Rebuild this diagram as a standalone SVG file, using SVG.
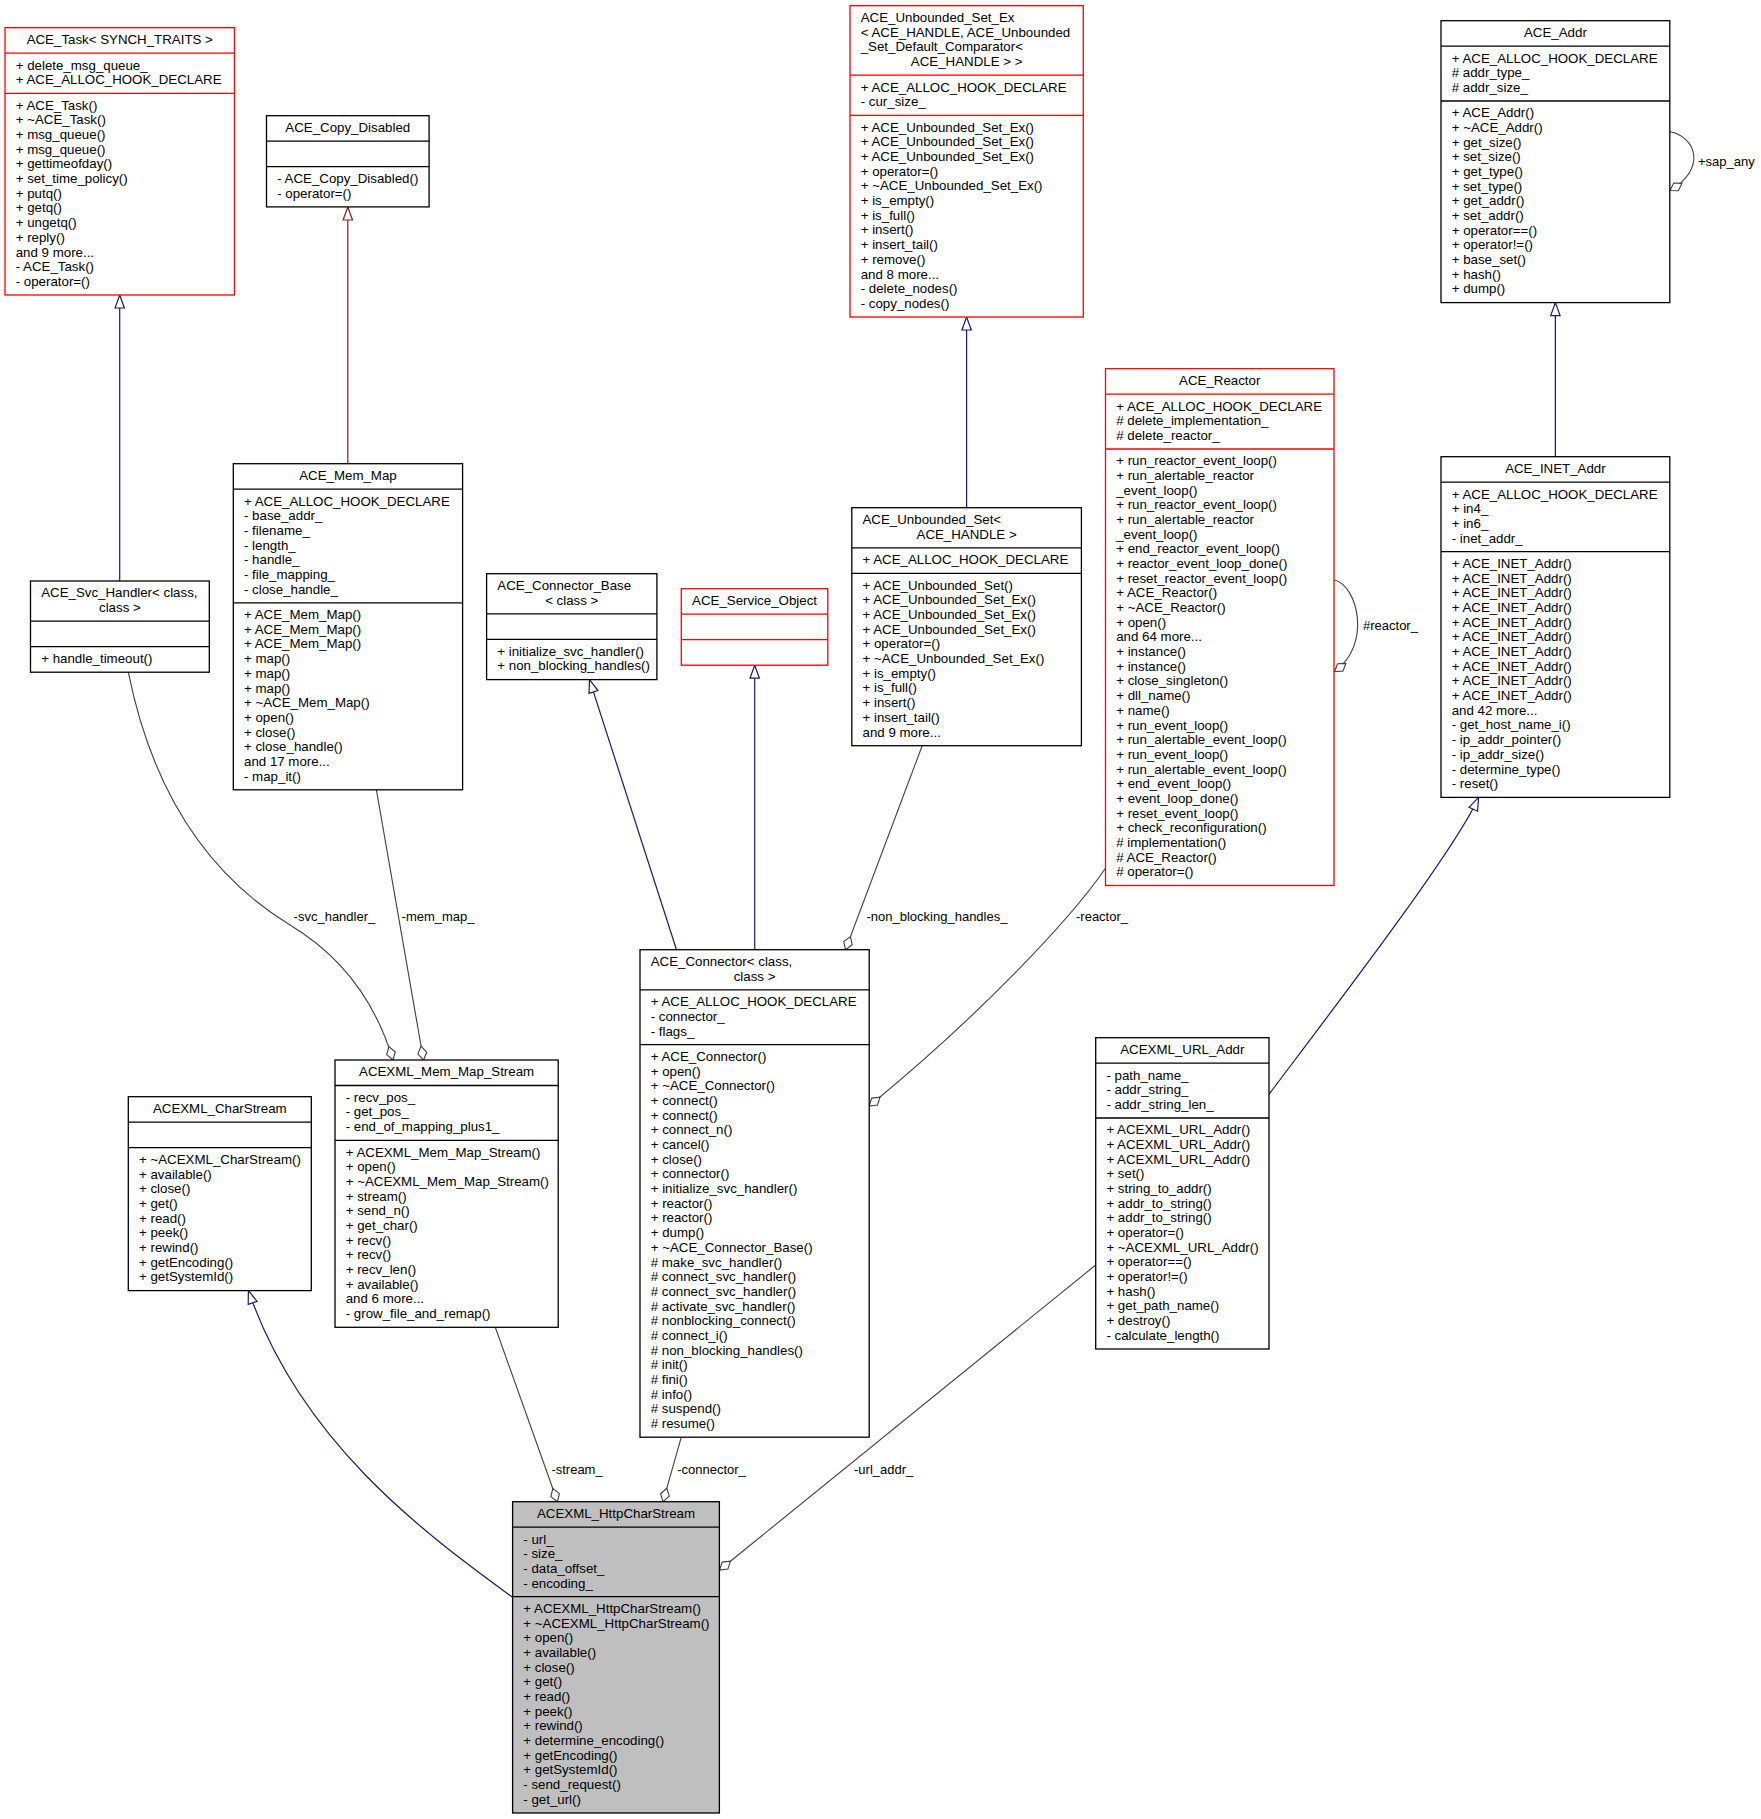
<svg xmlns="http://www.w3.org/2000/svg" width="1761" height="1819" viewBox="0 0 1761 1819">
<style>
.bg{fill:#ffffff}
.box{fill:#ffffff;stroke:#000000;stroke-width:1.3}
.rbox{fill:#ffffff;stroke:#ff0000;stroke-width:1.3}
.gbox{fill:#bfbfbf;stroke:#000000;stroke-width:1.3}
.div{stroke:#000000;stroke-width:1.3}
.rdiv{stroke:#ff0000;stroke-width:1.3}
text{font-family:"Liberation Sans",Arial,Helvetica,sans-serif;font-size:13.3px;fill:#000000}
.c{text-anchor:middle}
.lbl{font-size:13px}
.inh{fill:none;stroke:#191970;stroke-width:1.2;marker-end:url(#tri)}
.pinh{fill:none;stroke:#8b1a1a;stroke-width:1.2;marker-end:url(#ptri)}
.use{fill:none;stroke:#404040;stroke-width:1.1;marker-end:url(#dia)}
</style>
<defs>
<marker id="tri" markerUnits="userSpaceOnUse" markerWidth="16" markerHeight="12" refX="14" refY="5.7" orient="auto" viewBox="0 0 16 12">
<path d="M1,1 L14,5.7 L1,10.4 Z" fill="#ffffff" stroke="#191970" stroke-width="1.2"/>
</marker>
<marker id="ptri" markerUnits="userSpaceOnUse" markerWidth="16" markerHeight="12" refX="14" refY="5.7" orient="auto" viewBox="0 0 16 12">
<path d="M1,1 L14,5.7 L1,10.4 Z" fill="#ffffff" stroke="#8b1a1a" stroke-width="1.2"/>
</marker>
<marker id="dia" markerUnits="userSpaceOnUse" markerWidth="17" markerHeight="12" refX="15" refY="5.5" orient="auto" viewBox="0 0 17 12">
<path d="M1,5.5 L8,1 L15,5.5 L8,10 Z" fill="#ffffff" stroke="#404040" stroke-width="1.1"/>
</marker>
</defs>
<rect class="bg" x="0" y="0" width="1761" height="1819"/>

<g id="connectors">
<path class="inh" d="M119.7,581 L119.7,295"/>
<path class="pinh" d="M347.8,463.7 L347.8,207"/>
<path class="inh" d="M966.6,507.7 L966.6,317"/>
<path class="inh" d="M1555.4,456.7 L1555.4,302.6"/>
<path class="inh" d="M676.5,949.7 L589.5,679.6"/>
<path class="inh" d="M754.7,949.7 L754.7,665.2"/>
<path class="inh" d="M1269,1094.3 C1340,1000 1455,850 1478.6,797.4"/>
<path class="inh" d="M512.6,1597.3 C420,1530 300,1440 248.4,1290.6"/>
<path class="use" d="M128.3,672.2 C150,780 200,870 290,925 C340,955 375,1000 393,1060"/>
<path class="use" d="M376.4,789.8 L423.5,1060"/>
<path class="use" d="M495.3,1327.3 L557.5,1501.7"/>
<path class="use" d="M681.3,1437.2 L663,1501.7"/>
<path class="use" d="M922.2,745.7 L845.5,949.7"/>
<path class="use" d="M1105.5,868.3 C1070,920 980,1015 869.2,1106"/>
<path class="use" d="M1095.7,1265 L719.6,1570"/>
<path class="use" d="M1669.8,131.7 C1695,136 1708,168 1670,190.5"/>
<path class="use" d="M1334.5,580 C1358,586 1372,645 1334.5,671.5"/>
<text class="lbl" x="1698" y="165.5">+sap_any</text>
<text class="lbl" x="1363" y="630">#reactor_</text>
<text class="lbl" x="293.6" y="921">-svc_handler_</text>
<text class="lbl" x="401.6" y="921">-mem_map_</text>
<text class="lbl" x="866.5" y="921">-non_blocking_handles_</text>
<text class="lbl" x="1076" y="921">-reactor_</text>
<text class="lbl" x="551.4" y="1473.5">-stream_</text>
<text class="lbl" x="677.2" y="1473.5">-connector_</text>
<text class="lbl" x="854" y="1473.5">-url_addr_</text>
</g>

<g id="ACE_Task">
<rect class="rbox" x="5" y="27.7" width="229.5" height="267.3"/>
<line class="rdiv" x1="5" y1="53.2" x2="234.5" y2="53.2"/>
<line class="rdiv" x1="5" y1="93.4" x2="234.5" y2="93.4"/>
<text class="c" x="119.75" y="44">ACE_Task&lt; SYNCH_TRAITS &gt;</text>
<text x="15.7" y="69.5"><tspan x="15.7">+ delete_msg_queue_</tspan><tspan x="15.7" dy="14.68">+ ACE_ALLOC_HOOK_DECLARE</tspan></text>
<text x="15.7" y="109.7"><tspan x="15.7">+ ACE_Task()</tspan><tspan x="15.7" dy="14.68">+ ~ACE_Task()</tspan><tspan x="15.7" dy="14.68">+ msg_queue()</tspan><tspan x="15.7" dy="14.68">+ msg_queue()</tspan><tspan x="15.7" dy="14.68">+ gettimeofday()</tspan><tspan x="15.7" dy="14.68">+ set_time_policy()</tspan><tspan x="15.7" dy="14.68">+ putq()</tspan><tspan x="15.7" dy="14.68">+ getq()</tspan><tspan x="15.7" dy="14.68">+ ungetq()</tspan><tspan x="15.7" dy="14.68">+ reply()</tspan><tspan x="15.7" dy="14.68">and 9 more...</tspan><tspan x="15.7" dy="14.68">- ACE_Task()</tspan><tspan x="15.7" dy="14.68">- operator=()</tspan></text>
</g>

<g id="ACE_Copy_Disabled">
<rect class="box" x="266.5" y="115.7" width="162.6" height="91.2"/>
<line class="div" x1="266.5" y1="141.2" x2="429.1" y2="141.2"/>
<line class="div" x1="266.5" y1="166.7" x2="429.1" y2="166.7"/>
<text class="c" x="347.8" y="132">ACE_Copy_Disabled</text>
<text x="277.2" y="183"><tspan x="277.2">- ACE_Copy_Disabled()</tspan><tspan x="277.2" dy="14.68">- operator=()</tspan></text>
</g>

<g id="ACE_Unbounded_Set_Ex">
<rect class="rbox" x="850" y="5.7" width="233.3" height="311.3"/>
<line class="rdiv" x1="850" y1="75.2" x2="1083.3" y2="75.2"/>
<line class="rdiv" x1="850" y1="115.4" x2="1083.3" y2="115.4"/>
<text x="860.7" y="22"><tspan x="860.7">ACE_Unbounded_Set_Ex</tspan><tspan x="860.7" dy="14.68">&lt; ACE_HANDLE, ACE_Unbounded</tspan><tspan x="860.7" dy="14.68">_Set_Default_Comparator&lt;</tspan></text>
<text class="c" x="966.65" y="66">ACE_HANDLE &gt; &gt;</text>
<text x="860.7" y="91.5"><tspan x="860.7">+ ACE_ALLOC_HOOK_DECLARE</tspan><tspan x="860.7" dy="14.68">- cur_size_</tspan></text>
<text x="860.7" y="131.7"><tspan x="860.7">+ ACE_Unbounded_Set_Ex()</tspan><tspan x="860.7" dy="14.68">+ ACE_Unbounded_Set_Ex()</tspan><tspan x="860.7" dy="14.68">+ ACE_Unbounded_Set_Ex()</tspan><tspan x="860.7" dy="14.68">+ operator=()</tspan><tspan x="860.7" dy="14.68">+ ~ACE_Unbounded_Set_Ex()</tspan><tspan x="860.7" dy="14.68">+ is_empty()</tspan><tspan x="860.7" dy="14.68">+ is_full()</tspan><tspan x="860.7" dy="14.68">+ insert()</tspan><tspan x="860.7" dy="14.68">+ insert_tail()</tspan><tspan x="860.7" dy="14.68">+ remove()</tspan><tspan x="860.7" dy="14.68">and 8 more...</tspan><tspan x="860.7" dy="14.68">- delete_nodes()</tspan><tspan x="860.7" dy="14.68">- copy_nodes()</tspan></text>
</g>

<g id="ACE_Addr">
<rect class="box" x="1441" y="20.7" width="228.8" height="281.9"/>
<line class="div" x1="1441" y1="46.2" x2="1669.8" y2="46.2"/>
<line class="div" x1="1441" y1="101" x2="1669.8" y2="101"/>
<text class="c" x="1555.4" y="37">ACE_Addr</text>
<text x="1451.7" y="62.5"><tspan x="1451.7">+ ACE_ALLOC_HOOK_DECLARE</tspan><tspan x="1451.7" dy="14.68"># addr_type_</tspan><tspan x="1451.7" dy="14.68"># addr_size_</tspan></text>
<text x="1451.7" y="117.3"><tspan x="1451.7">+ ACE_Addr()</tspan><tspan x="1451.7" dy="14.68">+ ~ACE_Addr()</tspan><tspan x="1451.7" dy="14.68">+ get_size()</tspan><tspan x="1451.7" dy="14.68">+ set_size()</tspan><tspan x="1451.7" dy="14.68">+ get_type()</tspan><tspan x="1451.7" dy="14.68">+ set_type()</tspan><tspan x="1451.7" dy="14.68">+ get_addr()</tspan><tspan x="1451.7" dy="14.68">+ set_addr()</tspan><tspan x="1451.7" dy="14.68">+ operator==()</tspan><tspan x="1451.7" dy="14.68">+ operator!=()</tspan><tspan x="1451.7" dy="14.68">+ base_set()</tspan><tspan x="1451.7" dy="14.68">+ hash()</tspan><tspan x="1451.7" dy="14.68">+ dump()</tspan></text>
</g>

<g id="ACE_Reactor">
<rect class="rbox" x="1105.5" y="368.7" width="228.5" height="516.8"/>
<line class="rdiv" x1="1105.5" y1="394.2" x2="1334" y2="394.2"/>
<line class="rdiv" x1="1105.5" y1="449" x2="1334" y2="449"/>
<text class="c" x="1219.75" y="385">ACE_Reactor</text>
<text x="1116.2" y="410.5"><tspan x="1116.2">+ ACE_ALLOC_HOOK_DECLARE</tspan><tspan x="1116.2" dy="14.68"># delete_implementation_</tspan><tspan x="1116.2" dy="14.68"># delete_reactor_</tspan></text>
<text x="1116.2" y="465.3"><tspan x="1116.2">+ run_reactor_event_loop()</tspan><tspan x="1116.2" dy="14.68">+ run_alertable_reactor</tspan><tspan x="1116.2" dy="14.68">_event_loop()</tspan><tspan x="1116.2" dy="14.68">+ run_reactor_event_loop()</tspan><tspan x="1116.2" dy="14.68">+ run_alertable_reactor</tspan><tspan x="1116.2" dy="14.68">_event_loop()</tspan><tspan x="1116.2" dy="14.68">+ end_reactor_event_loop()</tspan><tspan x="1116.2" dy="14.68">+ reactor_event_loop_done()</tspan><tspan x="1116.2" dy="14.68">+ reset_reactor_event_loop()</tspan><tspan x="1116.2" dy="14.68">+ ACE_Reactor()</tspan><tspan x="1116.2" dy="14.68">+ ~ACE_Reactor()</tspan><tspan x="1116.2" dy="14.68">+ open()</tspan><tspan x="1116.2" dy="14.68">and 64 more...</tspan><tspan x="1116.2" dy="14.68">+ instance()</tspan><tspan x="1116.2" dy="14.68">+ instance()</tspan><tspan x="1116.2" dy="14.68">+ close_singleton()</tspan><tspan x="1116.2" dy="14.68">+ dll_name()</tspan><tspan x="1116.2" dy="14.68">+ name()</tspan><tspan x="1116.2" dy="14.68">+ run_event_loop()</tspan><tspan x="1116.2" dy="14.68">+ run_alertable_event_loop()</tspan><tspan x="1116.2" dy="14.68">+ run_event_loop()</tspan><tspan x="1116.2" dy="14.68">+ run_alertable_event_loop()</tspan><tspan x="1116.2" dy="14.68">+ end_event_loop()</tspan><tspan x="1116.2" dy="14.68">+ event_loop_done()</tspan><tspan x="1116.2" dy="14.68">+ reset_event_loop()</tspan><tspan x="1116.2" dy="14.68">+ check_reconfiguration()</tspan><tspan x="1116.2" dy="14.68"># implementation()</tspan><tspan x="1116.2" dy="14.68"># ACE_Reactor()</tspan><tspan x="1116.2" dy="14.68"># operator=()</tspan></text>
</g>

<g id="ACE_INET_Addr">
<rect class="box" x="1441" y="456.7" width="228.8" height="340.7"/>
<line class="div" x1="1441" y1="482.2" x2="1669.8" y2="482.2"/>
<line class="div" x1="1441" y1="551.7" x2="1669.8" y2="551.7"/>
<text class="c" x="1555.4" y="473">ACE_INET_Addr</text>
<text x="1451.7" y="498.5"><tspan x="1451.7">+ ACE_ALLOC_HOOK_DECLARE</tspan><tspan x="1451.7" dy="14.68">+ in4_</tspan><tspan x="1451.7" dy="14.68">+ in6_</tspan><tspan x="1451.7" dy="14.68">- inet_addr_</tspan></text>
<text x="1451.7" y="568"><tspan x="1451.7">+ ACE_INET_Addr()</tspan><tspan x="1451.7" dy="14.68">+ ACE_INET_Addr()</tspan><tspan x="1451.7" dy="14.68">+ ACE_INET_Addr()</tspan><tspan x="1451.7" dy="14.68">+ ACE_INET_Addr()</tspan><tspan x="1451.7" dy="14.68">+ ACE_INET_Addr()</tspan><tspan x="1451.7" dy="14.68">+ ACE_INET_Addr()</tspan><tspan x="1451.7" dy="14.68">+ ACE_INET_Addr()</tspan><tspan x="1451.7" dy="14.68">+ ACE_INET_Addr()</tspan><tspan x="1451.7" dy="14.68">+ ACE_INET_Addr()</tspan><tspan x="1451.7" dy="14.68">+ ACE_INET_Addr()</tspan><tspan x="1451.7" dy="14.68">and 42 more...</tspan><tspan x="1451.7" dy="14.68">- get_host_name_i()</tspan><tspan x="1451.7" dy="14.68">- ip_addr_pointer()</tspan><tspan x="1451.7" dy="14.68">- ip_addr_size()</tspan><tspan x="1451.7" dy="14.68">- determine_type()</tspan><tspan x="1451.7" dy="14.68">- reset()</tspan></text>
</g>

<g id="ACE_Svc_Handler">
<rect class="box" x="30.5" y="581" width="178.8" height="91.2"/>
<line class="div" x1="30.5" y1="621.2" x2="209.3" y2="621.2"/>
<line class="div" x1="30.5" y1="646.7" x2="209.3" y2="646.7"/>
<text x="41.2" y="597.3">ACE_Svc_Handler&lt; class,</text>
<text class="c" x="119.9" y="612">class &gt;</text>
<text x="41.2" y="663">+ handle_timeout()</text>
</g>

<g id="ACE_Mem_Map">
<rect class="box" x="233.3" y="463.7" width="229.3" height="326.1"/>
<line class="div" x1="233.3" y1="489.2" x2="462.6" y2="489.2"/>
<line class="div" x1="233.3" y1="602.8" x2="462.6" y2="602.8"/>
<text class="c" x="347.95" y="480">ACE_Mem_Map</text>
<text x="244" y="505.5"><tspan x="244">+ ACE_ALLOC_HOOK_DECLARE</tspan><tspan x="244" dy="14.68">- base_addr_</tspan><tspan x="244" dy="14.68">- filename_</tspan><tspan x="244" dy="14.68">- length_</tspan><tspan x="244" dy="14.68">- handle_</tspan><tspan x="244" dy="14.68">- file_mapping_</tspan><tspan x="244" dy="14.68">- close_handle_</tspan></text>
<text x="244" y="619.1"><tspan x="244">+ ACE_Mem_Map()</tspan><tspan x="244" dy="14.68">+ ACE_Mem_Map()</tspan><tspan x="244" dy="14.68">+ ACE_Mem_Map()</tspan><tspan x="244" dy="14.68">+ map()</tspan><tspan x="244" dy="14.68">+ map()</tspan><tspan x="244" dy="14.68">+ map()</tspan><tspan x="244" dy="14.68">+ ~ACE_Mem_Map()</tspan><tspan x="244" dy="14.68">+ open()</tspan><tspan x="244" dy="14.68">+ close()</tspan><tspan x="244" dy="14.68">+ close_handle()</tspan><tspan x="244" dy="14.68">and 17 more...</tspan><tspan x="244" dy="14.68">- map_it()</tspan></text>
</g>

<g id="ACE_Connector_Base">
<rect class="box" x="486.6" y="573.7" width="170.3" height="105.9"/>
<line class="div" x1="486.6" y1="613.9" x2="656.9" y2="613.9"/>
<line class="div" x1="486.6" y1="639.4" x2="656.9" y2="639.4"/>
<text x="497.3" y="590">ACE_Connector_Base</text>
<text class="c" x="571.75" y="604.7">&lt; class &gt;</text>
<text x="497.3" y="655.7"><tspan x="497.3">+ initialize_svc_handler()</tspan><tspan x="497.3" dy="14.68">+ non_blocking_handles()</tspan></text>
</g>

<g id="ACE_Service_Object">
<rect class="rbox" x="681.3" y="588.7" width="146.5" height="76.5"/>
<line class="rdiv" x1="681.3" y1="614.2" x2="827.8" y2="614.2"/>
<line class="rdiv" x1="681.3" y1="639.7" x2="827.8" y2="639.7"/>
<text class="c" x="754.55" y="605">ACE_Service_Object</text>
</g>

<g id="ACE_Unbounded_Set">
<rect class="box" x="851.8" y="507.7" width="229.6" height="238"/>
<line class="div" x1="851.8" y1="547.9" x2="1081.4" y2="547.9"/>
<line class="div" x1="851.8" y1="573.4" x2="1081.4" y2="573.4"/>
<text x="862.5" y="524">ACE_Unbounded_Set&lt;</text>
<text class="c" x="966.6" y="538.7">ACE_HANDLE &gt;</text>
<text x="862.5" y="564.2">+ ACE_ALLOC_HOOK_DECLARE</text>
<text x="862.5" y="589.7"><tspan x="862.5">+ ACE_Unbounded_Set()</tspan><tspan x="862.5" dy="14.68">+ ACE_Unbounded_Set_Ex()</tspan><tspan x="862.5" dy="14.68">+ ACE_Unbounded_Set_Ex()</tspan><tspan x="862.5" dy="14.68">+ ACE_Unbounded_Set_Ex()</tspan><tspan x="862.5" dy="14.68">+ operator=()</tspan><tspan x="862.5" dy="14.68">+ ~ACE_Unbounded_Set_Ex()</tspan><tspan x="862.5" dy="14.68">+ is_empty()</tspan><tspan x="862.5" dy="14.68">+ is_full()</tspan><tspan x="862.5" dy="14.68">+ insert()</tspan><tspan x="862.5" dy="14.68">+ insert_tail()</tspan><tspan x="862.5" dy="14.68">and 9 more...</tspan></text>
</g>

<g id="ACEXML_CharStream">
<rect class="box" x="128.3" y="1096.7" width="183" height="193.9"/>
<line class="div" x1="128.3" y1="1122.2" x2="311.3" y2="1122.2"/>
<line class="div" x1="128.3" y1="1147.7" x2="311.3" y2="1147.7"/>
<text class="c" x="219.8" y="1113">ACEXML_CharStream</text>
<text x="139" y="1164"><tspan x="139">+ ~ACEXML_CharStream()</tspan><tspan x="139" dy="14.68">+ available()</tspan><tspan x="139" dy="14.68">+ close()</tspan><tspan x="139" dy="14.68">+ get()</tspan><tspan x="139" dy="14.68">+ read()</tspan><tspan x="139" dy="14.68">+ peek()</tspan><tspan x="139" dy="14.68">+ rewind()</tspan><tspan x="139" dy="14.68">+ getEncoding()</tspan><tspan x="139" dy="14.68">+ getSystemId()</tspan></text>
</g>

<g id="ACEXML_Mem_Map_Stream">
<rect class="box" x="335" y="1060" width="223.2" height="267.3"/>
<line class="div" x1="335" y1="1085.5" x2="558.2" y2="1085.5"/>
<line class="div" x1="335" y1="1140.3" x2="558.2" y2="1140.3"/>
<text class="c" x="446.6" y="1076.3">ACEXML_Mem_Map_Stream</text>
<text x="345.7" y="1101.8"><tspan x="345.7">- recv_pos_</tspan><tspan x="345.7" dy="14.68">- get_pos_</tspan><tspan x="345.7" dy="14.68">- end_of_mapping_plus1_</tspan></text>
<text x="345.7" y="1156.6"><tspan x="345.7">+ ACEXML_Mem_Map_Stream()</tspan><tspan x="345.7" dy="14.68">+ open()</tspan><tspan x="345.7" dy="14.68">+ ~ACEXML_Mem_Map_Stream()</tspan><tspan x="345.7" dy="14.68">+ stream()</tspan><tspan x="345.7" dy="14.68">+ send_n()</tspan><tspan x="345.7" dy="14.68">+ get_char()</tspan><tspan x="345.7" dy="14.68">+ recv()</tspan><tspan x="345.7" dy="14.68">+ recv()</tspan><tspan x="345.7" dy="14.68">+ recv_len()</tspan><tspan x="345.7" dy="14.68">+ available()</tspan><tspan x="345.7" dy="14.68">and 6 more...</tspan><tspan x="345.7" dy="14.68">- grow_file_and_remap()</tspan></text>
</g>

<g id="ACE_Connector">
<rect class="box" x="640" y="949.7" width="229.2" height="487.5"/>
<line class="div" x1="640" y1="989.9" x2="869.2" y2="989.9"/>
<line class="div" x1="640" y1="1044.7" x2="869.2" y2="1044.7"/>
<text x="650.7" y="966">ACE_Connector&lt; class,</text>
<text class="c" x="754.6" y="980.7">class &gt;</text>
<text x="650.7" y="1006.2"><tspan x="650.7">+ ACE_ALLOC_HOOK_DECLARE</tspan><tspan x="650.7" dy="14.68">- connector_</tspan><tspan x="650.7" dy="14.68">- flags_</tspan></text>
<text x="650.7" y="1061"><tspan x="650.7">+ ACE_Connector()</tspan><tspan x="650.7" dy="14.68">+ open()</tspan><tspan x="650.7" dy="14.68">+ ~ACE_Connector()</tspan><tspan x="650.7" dy="14.68">+ connect()</tspan><tspan x="650.7" dy="14.68">+ connect()</tspan><tspan x="650.7" dy="14.68">+ connect_n()</tspan><tspan x="650.7" dy="14.68">+ cancel()</tspan><tspan x="650.7" dy="14.68">+ close()</tspan><tspan x="650.7" dy="14.68">+ connector()</tspan><tspan x="650.7" dy="14.68">+ initialize_svc_handler()</tspan><tspan x="650.7" dy="14.68">+ reactor()</tspan><tspan x="650.7" dy="14.68">+ reactor()</tspan><tspan x="650.7" dy="14.68">+ dump()</tspan><tspan x="650.7" dy="14.68">+ ~ACE_Connector_Base()</tspan><tspan x="650.7" dy="14.68"># make_svc_handler()</tspan><tspan x="650.7" dy="14.68"># connect_svc_handler()</tspan><tspan x="650.7" dy="14.68"># connect_svc_handler()</tspan><tspan x="650.7" dy="14.68"># activate_svc_handler()</tspan><tspan x="650.7" dy="14.68"># nonblocking_connect()</tspan><tspan x="650.7" dy="14.68"># connect_i()</tspan><tspan x="650.7" dy="14.68"># non_blocking_handles()</tspan><tspan x="650.7" dy="14.68"># init()</tspan><tspan x="650.7" dy="14.68"># fini()</tspan><tspan x="650.7" dy="14.68"># info()</tspan><tspan x="650.7" dy="14.68"># suspend()</tspan><tspan x="650.7" dy="14.68"># resume()</tspan></text>
</g>

<g id="ACEXML_URL_Addr">
<rect class="box" x="1095.7" y="1037.7" width="173.3" height="311.3"/>
<line class="div" x1="1095.7" y1="1063.2" x2="1269" y2="1063.2"/>
<line class="div" x1="1095.7" y1="1118" x2="1269" y2="1118"/>
<text class="c" x="1182.35" y="1054">ACEXML_URL_Addr</text>
<text x="1106.4" y="1079.5"><tspan x="1106.4">- path_name_</tspan><tspan x="1106.4" dy="14.68">- addr_string_</tspan><tspan x="1106.4" dy="14.68">- addr_string_len_</tspan></text>
<text x="1106.4" y="1134.3"><tspan x="1106.4">+ ACEXML_URL_Addr()</tspan><tspan x="1106.4" dy="14.68">+ ACEXML_URL_Addr()</tspan><tspan x="1106.4" dy="14.68">+ ACEXML_URL_Addr()</tspan><tspan x="1106.4" dy="14.68">+ set()</tspan><tspan x="1106.4" dy="14.68">+ string_to_addr()</tspan><tspan x="1106.4" dy="14.68">+ addr_to_string()</tspan><tspan x="1106.4" dy="14.68">+ addr_to_string()</tspan><tspan x="1106.4" dy="14.68">+ operator=()</tspan><tspan x="1106.4" dy="14.68">+ ~ACEXML_URL_Addr()</tspan><tspan x="1106.4" dy="14.68">+ operator==()</tspan><tspan x="1106.4" dy="14.68">+ operator!=()</tspan><tspan x="1106.4" dy="14.68">+ hash()</tspan><tspan x="1106.4" dy="14.68">+ get_path_name()</tspan><tspan x="1106.4" dy="14.68">+ destroy()</tspan><tspan x="1106.4" dy="14.68">- calculate_length()</tspan></text>
</g>

<g id="ACEXML_HttpCharStream">
<rect class="gbox" x="512.6" y="1501.7" width="206.8" height="311.3"/>
<line class="div" x1="512.6" y1="1527.2" x2="719.4" y2="1527.2"/>
<line class="div" x1="512.6" y1="1596.7" x2="719.4" y2="1596.7"/>
<text class="c" x="616" y="1518">ACEXML_HttpCharStream</text>
<text x="523.3" y="1543.5"><tspan x="523.3">- url_</tspan><tspan x="523.3" dy="14.68">- size_</tspan><tspan x="523.3" dy="14.68">- data_offset_</tspan><tspan x="523.3" dy="14.68">- encoding_</tspan></text>
<text x="523.3" y="1613"><tspan x="523.3">+ ACEXML_HttpCharStream()</tspan><tspan x="523.3" dy="14.68">+ ~ACEXML_HttpCharStream()</tspan><tspan x="523.3" dy="14.68">+ open()</tspan><tspan x="523.3" dy="14.68">+ available()</tspan><tspan x="523.3" dy="14.68">+ close()</tspan><tspan x="523.3" dy="14.68">+ get()</tspan><tspan x="523.3" dy="14.68">+ read()</tspan><tspan x="523.3" dy="14.68">+ peek()</tspan><tspan x="523.3" dy="14.68">+ rewind()</tspan><tspan x="523.3" dy="14.68">+ determine_encoding()</tspan><tspan x="523.3" dy="14.68">+ getEncoding()</tspan><tspan x="523.3" dy="14.68">+ getSystemId()</tspan><tspan x="523.3" dy="14.68">- send_request()</tspan><tspan x="523.3" dy="14.68">- get_url()</tspan></text>
</g>
</svg>
